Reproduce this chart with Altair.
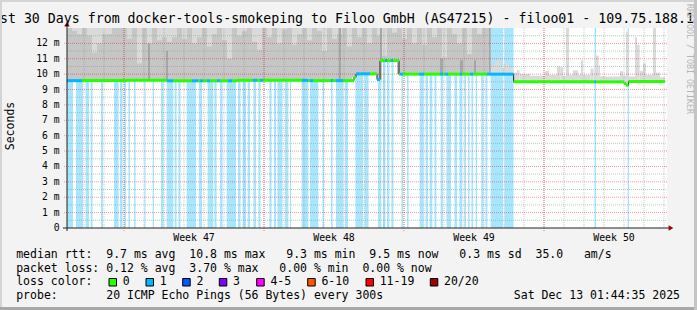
import altair as alt
import pandas as pd

# ---------------- texts ----------------
TITLE = "Last 30 Days from docker-tools-smokeping to Filoo GmbH (AS47215) - filoo01 - 109.75.188.1"
Y_TITLE = "Seconds"
WATERMARK = "RRDTOOL / TOBI OETIKER"
legend_lines = [
    "median rtt:  9.7 ms avg  10.8 ms max   9.3 ms min  9.5 ms now   0.3 ms sd  35.0   am/s",
    "packet loss: 0.12 % avg  3.70 % max   0.00 % min  0.00 % now",
    "loss color:",
    "probe:       20 ICMP Echo Pings (56 Bytes) every 300s",
]
date_text = "Sat Dec 13 01:44:35 2025"
loss_labels = ["0", "1", "2", "3", "4-5", "6-10", "11-19", "20/20"]
loss_colors = ["#26ff00", "#00b8ff", "#0059ff", "#7e00ff", "#ff00ff", "#ff5500", "#ff0000", "#a10000"]

# ---------------- axes ----------------
y_tick_values = [0, 1, 2, 3, 4, 5, 6, 7, 8, 9, 10, 11, 12]
y_tick_labels = ["0", "1 m", "2 m", "3 m", "4 m", "5 m", "6 m", "7 m", "8 m", "9 m", "10 m", "11 m", "12 m"]
week_labels = ["Week 47", "Week 48", "Week 49", "Week 50"]
week_centers = [6.35, 13.35, 20.35, 27.35]       # days from graph start
week_bounds = [2.85, 9.85, 16.85, 23.85]
day_lines = [0.85 + k for k in range(30)]
h_major = [1, 2, 3, 4, 5, 6, 7, 8, 9, 10, 11, 12]
h_minor = [0.5, 1.5, 2.5, 3.5, 4.5, 5.5, 6.5, 7.5, 8.5, 9.5, 10.5, 11.5, 12.5]

# ---------------- data (days from start, ms) ----------------
median_day = [0.0, 3.0, 5.0, 8.5, 12.0, 14.35, 14.45, 15.5, 15.65, 16.6, 22.33, 27.85, 27.95, 28.08, 29.9]
median_ms = [9.58, 9.61, 9.57, 9.6, 9.58, 9.8, 10.02, 9.65, 10.88, 10.0, 9.5, 9.4, 9.28, 9.52, 9.52]

# loss background bars (start, end)
loss_start = [0.0, 0.45, 0.93, 1.18, 1.7, 2.35, 2.65, 2.87, 3.07, 3.35, 3.87, 4.28, 4.7, 4.98, 5.38,
              5.57, 5.98, 6.59, 7.03, 7.37, 7.65, 7.98, 8.55, 8.78, 9.03, 9.32, 9.57, 10.12, 10.35,
              10.52, 10.9, 11.15, 11.73, 12.15, 12.77, 13.2, 13.45, 13.9, 14.42, 14.87, 15.55, 15.8,
              16.0, 16.22, 16.72, 17.0, 17.63, 17.93, 18.13, 18.37, 18.68, 18.97, 19.37, 19.62,
              19.87, 20.05, 20.22, 20.43, 20.71, 20.92, 21.18, 21.87, 26.37, 28.03]
loss_end = [0.3, 0.8, 1.1, 1.28, 1.8, 2.58, 2.78, 2.95, 3.15, 3.43, 3.93, 4.35, 4.83, 5.32, 5.48,
            5.68, 6.45, 6.75, 7.32, 7.48, 7.78, 8.45, 8.68, 8.95, 9.15, 9.45, 9.68, 10.23, 10.45,
            10.78, 11.07, 11.2, 12.07, 12.57, 12.85, 13.28, 13.82, 14.05, 14.8, 15.08, 15.72, 15.92,
            16.12, 16.33, 16.8, 17.08, 17.83, 18.05, 18.27, 18.47, 18.8, 19.2, 19.5, 19.77,
            19.95, 20.13, 20.31, 20.5, 20.83, 21.02, 21.8, 22.33, 26.45, 28.1]

# stretches where the median line itself is drawn in the "1" loss colour (start, end)
line_loss_start = [0.0, 5.0, 6.25, 6.65, 7.0, 7.5, 8.05, 9.3, 9.65, 11.75, 12.15, 13.2, 13.45,
                   14.45, 15.5, 15.9, 16.2, 16.65, 17.6, 18.65, 18.9, 19.65, 20.15, 21.0, 26.37]
line_loss_end = [0.75, 5.3, 6.55, 6.8, 7.15, 7.65, 8.25, 9.5, 9.8, 12.05, 12.3, 13.3, 13.8,
                 15.15, 15.65, 16.0, 16.3, 16.8, 17.85, 18.8, 19.05, 19.75, 20.3, 22.33, 26.45]

# inner (mid-grey) smoke top per 0.25-day column, first 21.2 days; outer smoke is off the top there
SMOKE_STEP = 0.25
SMOKE_END = 21.18
smoke_mid_top = [
    13.5, 12.8, 12.6, 13.5, 12.5, 11.4, 12.0, 12.6, 12.6, 13.5,
    13.5, 13.5, 12.3, 13.5, 10.7, 13.5, 12.0, 13.5, 12.2, 12.4,
    12.1, 12.4, 13.5, 12.3, 13.5, 12.0, 12.4, 13.5, 11.8, 12.6,
    13.5, 12.2, 11.0, 13.5, 12.5, 12.8, 13.5, 12.1, 11.6, 13.5,
    12.4, 13.5, 12.0, 12.9, 13.5, 11.9, 12.6, 13.5, 12.2, 13.5,
    12.8, 11.5, 13.5, 12.3, 12.6, 13.5, 11.8, 13.5, 12.4, 13.5,
    12.0, 13.5, 12.5, 11.2, 13.5, 12.7, 13.5, 12.3, 13.5, 12.0,
    13.5, 11.9, 13.5, 12.4, 13.5, 11.1, 13.5, 12.6, 12.0, 13.5,
    11.3, 13.5, 12.6, 13.5, 13.5,
]
smoke_outer_top = 14.0

# dark smoke streaks (start, end, top)
dark_start = [4.05, 4.95, 13.58, 15.65, 18.65, 19.65, 20.35, 21.1]
dark_end = [4.15, 5.05, 13.7, 15.75, 18.8, 19.8, 20.45, 21.18]
dark_top = [12.0, 11.5, 13.5, 13.5, 11.0, 10.9, 10.9, 13.5]

# outer smoke after the loss block (start, end, top)
light_start = [21.18, 21.4, 21.55, 21.65, 21.8, 21.87, 22.1, 22.33, 22.5, 22.63, 23.15, 23.9, 24.1,
               24.5, 24.68, 24.8, 24.95, 25.1, 25.3, 25.55, 25.7, 25.8, 26.18, 26.33, 26.4, 26.58,
               26.65, 26.85, 27.65, 27.8, 27.95, 28.08, 28.4, 28.5, 28.63, 28.8, 28.95, 29.3, 29.45, 29.65]
light_end = [21.4, 21.55, 21.65, 21.8, 21.87, 22.1, 22.33, 22.5, 22.63, 23.15, 23.9, 24.1, 24.5,
             24.68, 24.8, 24.95, 25.1, 25.3, 25.55, 25.7, 25.8, 26.18, 26.33, 26.4, 26.58, 26.65,
             26.85, 27.65, 27.8, 27.95, 28.08, 28.4, 28.5, 28.63, 28.8, 28.95, 29.3, 29.45, 29.65, 29.9]
light_top = [10.6, 10.9, 11.0, 10.5, 10.4, 10.7, 10.4, 10.1, 10.25, 10.0, 9.9, 10.2, 9.95,
             10.5, 10.45, 9.9, 13.5, 9.95, 10.24, 9.95, 10.9, 9.95, 10.37, 9.95, 11.2, 10.56,
             9.87, 9.85, 10.2, 9.9, 12.75, 9.85, 12.4, 11.9, 10.2, 10.7, 9.95, 13.5, 10.1, 9.8]

# ---------------- build tables ----------------
def med_at(d):
    v = median_ms[0]
    for bd, bv in zip(median_day, median_ms):
        if d >= bd:
            v = bv
    return v

def line_lossy(d):
    return any(s <= d < e for s, e in zip(line_loss_start, line_loss_end))

df_loss = pd.DataFrame({"start": loss_start, "end": loss_end})

outer_rows, mid_rows = [], []
for i, t in enumerate(smoke_mid_top):
    s = i * SMOKE_STEP
    e = min((i + 1) * SMOKE_STEP, SMOKE_END)
    b = med_at((s + e) / 2)
    outer_rows.append({"start": s, "end": e, "base": b, "top": smoke_outer_top})
    mid_rows.append({"start": s, "end": e, "base": b, "top": t})
for s, e, t in zip(light_start, light_end, light_top):
    outer_rows.append({"start": s, "end": e, "base": med_at((s + e) / 2), "top": t})
df_outer = pd.DataFrame(outer_rows)
df_mid = pd.DataFrame(mid_rows)
df_dark = pd.DataFrame({"start": dark_start, "end": dark_end, "top": dark_top,
                        "base": [med_at((s + e) / 2) for s, e in zip(dark_start, dark_end)]})

END = median_day[-1]
cuts = sorted(set(list(median_day) + [d for d in line_loss_start + line_loss_end if d <= END]))
seg_rows = []
for a, b in zip(cuts[:-1], cuts[1:]):
    m = (a + b) / 2
    seg_rows.append({"start": a, "end": b, "ms": med_at(m), "loss": "loss1" if line_lossy(m) else "loss0"})
df_seg = pd.DataFrame(seg_rows)
df_med = pd.DataFrame({"day": median_day, "ms": median_ms})

# ---------------- chart ----------------
W, H = 600, 200
MONO = "DejaVu Sans Mono"
xs = alt.Scale(domain=[0, 30], nice=False, zero=False)
ys = alt.Scale(domain=[0, 13], nice=False, zero=False)
one = pd.DataFrame({"a": [0]})

def X(f):
    return alt.X(f, type="quantitative", scale=xs, axis=None)

def Y(f):
    return alt.Y(f, type="quantitative", scale=ys, axis=None)

layers = []
layers.append(alt.Chart(df_loss).mark_rect(color="#a8e6fd").encode(
    x=X("start"), x2="end", y=alt.value(0), y2=alt.value(H)))
layers.append(alt.Chart(df_outer).mark_rect(color="#dadada", clip=True).encode(
    x=X("start"), x2="end", y=Y("base"), y2="top"))
layers.append(alt.Chart(df_mid).mark_rect(color="#c6c6c6", clip=True).encode(
    x=X("start"), x2="end", y=Y("base"), y2="top"))
layers.append(alt.Chart(df_dark).mark_rect(color="#a6a6a6", clip=True).encode(
    x=X("start"), x2="end", y=Y("base"), y2="top"))

# grid
grid_gray = dict(strokeDash=[1, 1], color="#8f8f8f", opacity=0.5, strokeWidth=1)
grid_red = dict(strokeDash=[1, 1], color="#df0000", opacity=0.4, strokeWidth=1)
layers.append(alt.Chart(pd.DataFrame({"v": h_minor})).mark_rule(**grid_gray).encode(
    y=Y("v"), x=alt.value(0), x2=alt.value(W)))
layers.append(alt.Chart(pd.DataFrame({"d": day_lines})).mark_rule(**grid_gray).encode(
    x=X("d"), y=alt.value(0), y2=alt.value(H)))
layers.append(alt.Chart(pd.DataFrame({"v": h_major})).mark_rule(**grid_red).encode(
    y=Y("v"), x=alt.value(-3), x2=alt.value(W)))
layers.append(alt.Chart(pd.DataFrame({"d": week_bounds})).mark_rule(**grid_red).encode(
    x=X("d"), y=alt.value(0), y2=alt.value(H + 3)))

# median
layers.append(alt.Chart(df_med).mark_line(interpolate="step-after", color="#202020", strokeWidth=1).encode(
    x=X("day"), y=Y("ms")))
layers.append(alt.Chart(df_seg).mark_rule(strokeWidth=3).encode(
    x=X("start"), x2="end", y=Y("ms"),
    color=alt.Color("loss:N", scale=alt.Scale(domain=["loss0", "loss1"], range=[loss_colors[0], loss_colors[1]]), legend=None)))

# axis lines and arrows
layers.append(alt.Chart(one).mark_rule(color="#202020", strokeWidth=1).encode(
    x=alt.value(-4), x2=alt.value(W + 3), y=alt.value(H)))
layers.append(alt.Chart(one).mark_rule(color="#202020", strokeWidth=1).encode(
    x=alt.value(0), y=alt.value(-4), y2=alt.value(H + 3)))
layers.append(alt.Chart(one).mark_point(shape="M-1,0.9L1,0.9L0,-0.9Z", filled=True, size=28,
                                        color="#a00000", opacity=1).encode(
    x=alt.value(0), y=alt.value(-4)))
layers.append(alt.Chart(one).mark_point(shape="M-0.9,-1L0.9,0L-0.9,1Z", filled=True, size=28,
                                        color="#a00000", opacity=1).encode(
    x=alt.value(W + 4), y=alt.value(H)))

# tick labels
layers.append(alt.Chart(pd.DataFrame({"v": y_tick_values, "t": y_tick_labels})).mark_text(
    font=MONO, fontSize=9.7, align="right", baseline="middle", color="#000").encode(
    y=Y("v"), x=alt.value(-7.5), text="t:N"))
layers.append(alt.Chart(pd.DataFrame({"d": week_centers, "t": week_labels})).mark_text(
    font=MONO, fontSize=9.9, align="center", baseline="middle", color="#000").encode(
    x=X("d"), y=alt.value(209.5), text="t:N"))

# titles
layers.append(alt.Chart(pd.DataFrame({"t": [TITLE]})).mark_text(
    font=MONO, fontSize=13.25, align="left", baseline="alphabetic", color="#000").encode(
    x=alt.value(-83), y=alt.value(-4.7), text="t:N"))
layers.append(alt.Chart(pd.DataFrame({"t": [Y_TITLE]})).mark_text(
    font=MONO, fontSize=11.5, align="center", baseline="middle", angle=270, color="#000").encode(
    x=alt.value(-56), y=alt.value(98), text="t:N"))
layers.append(alt.Chart(pd.DataFrame({"t": [WATERMARK]})).mark_text(
    font=MONO, fontSize=8.3, align="center", baseline="middle", angle=90, color="#b4b4b4").encode(
    x=alt.value(622), y=alt.value(31), text="t:N"))

# legend lines
NB = "\u00a0"
baselines = [230, 243.7, 257.4, 271]
for line, by in zip(legend_lines, baselines):
    layers.append(alt.Chart(pd.DataFrame({"t": [line.replace(" ", NB)]})).mark_text(
        font=MONO, fontSize=11.5, align="left", baseline="alphabetic", color="#000").encode(
        x=alt.value(-50.8), y=alt.value(by), text="t:N"))
layers.append(alt.Chart(pd.DataFrame({"t": [date_text]})).mark_text(
    font=MONO, fontSize=11.5, align="right", baseline="alphabetic", color="#000").encode(
    x=alt.value(613), y=alt.value(271), text="t:N"))

box_px = [42, 79, 115.7, 152.3, 189.7, 240.7, 299, 363.3]
for bx, lab, col in zip(box_px, loss_labels, loss_colors):
    layers.append(alt.Chart(one).mark_rect(color=col, stroke="#000", strokeWidth=1).encode(
        x=alt.value(bx), x2=alt.value(bx + 7.5), y=alt.value(250.5), y2=alt.value(258)))
    layers.append(alt.Chart(pd.DataFrame({"t": [lab]})).mark_text(
        font=MONO, fontSize=11.5, align="left", baseline="alphabetic", color="#000").encode(
        x=alt.value(bx + 13.7), y=alt.value(257.4), text="t:N"))

# bevel frame
layers.append(alt.Chart(one).mark_rect(color="#d4d4d4").encode(
    x=alt.value(-67), x2=alt.value(630), y=alt.value(-28), y2=alt.value(-26)))
layers.append(alt.Chart(one).mark_rect(color="#d4d4d4").encode(
    x=alt.value(-67), x2=alt.value(-65), y=alt.value(-28), y2=alt.value(282)))
layers.append(alt.Chart(one).mark_rect(color="#a8a8a8").encode(
    x=alt.value(-67), x2=alt.value(630), y=alt.value(279), y2=alt.value(282)))
layers.append(alt.Chart(one).mark_rect(color="#c4c4c4").encode(
    x=alt.value(627), x2=alt.value(630), y=alt.value(-28), y2=alt.value(282)))

chart = alt.layer(*layers).properties(
    width=W, height=H,
    autosize=alt.AutoSizeParams(type="none"),
    padding={"left": 67, "top": 28, "right": 30, "bottom": 82},
    background="#f3f3f3",
).configure_view(fill="white", stroke=None)

chart.save("out.html", embed_options={"renderer": "svg", "actions": False})
